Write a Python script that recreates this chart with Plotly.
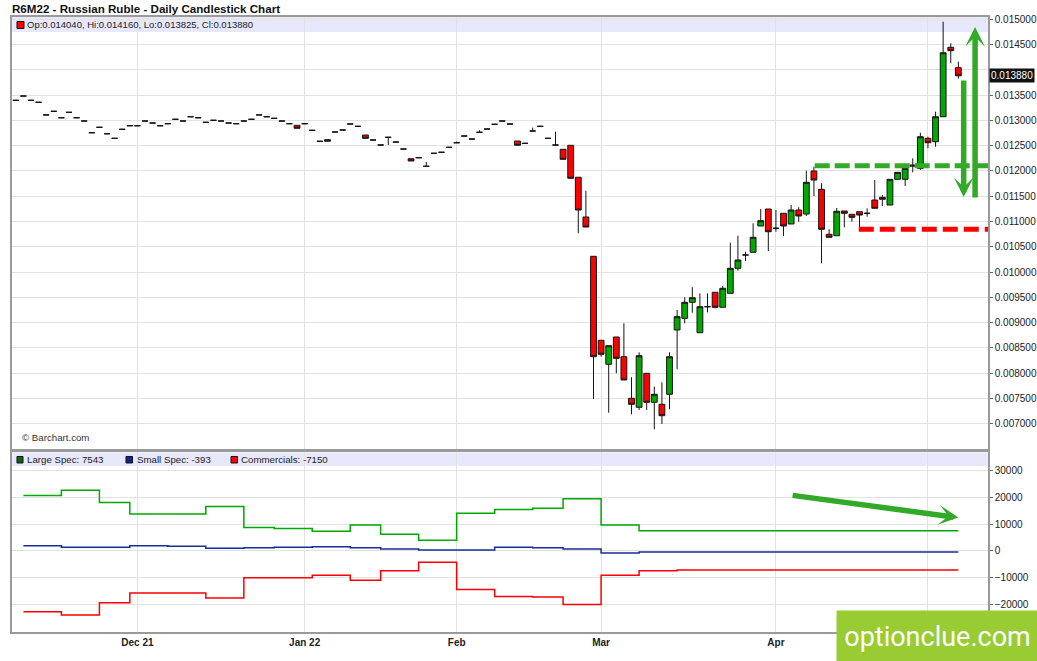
import pandas as pd
import plotly.graph_objects as go

# R6M22 daily bars, CME trading days from Nov 8 2021 to May 6 2022
holidays = ['2021-11-25', '2021-12-24', '2022-01-17', '2022-02-21', '2022-04-15']
days = [d.strftime('%Y-%m-%d')
        for d in pd.bdate_range('2021-11-08', '2022-05-06', freq='C', holidays=holidays)]

opens = [
    .013395, .013480, .013395, .013356, .013107, .013178, .013051, .013158, .013051, .012986,
    .012755, .012862, .012735, .012644, .012822, .012893, .012893, .012986, .012947, .012893,
    .012933, .013020, .012986, .013071, .013051, .012960, .013000, .012986, .012947, .012933,
    .012986, .013020, .013107, .013071, .013039, .012986, .012933, .012901, .012933, .012802,
    .012585, .012585, .012769, .012808, .012927, .012881, .012709, .012611, .012512, .012664,
    .012571, .012433, .012241, .012261, .012091, .012348, .012368, .012466, .012557, .012690,
    .012630, .012763, .012828, .012921, .012986, .012927, .012591, .012545, .012789, .012881,
    .012644, .012512, .012427, .012506, .011874, .011089, .010312, .008652, .008178, .008717,
    .008328, .007506, .007328, .008000, .007427, .007387, .007585, .008856, .009087, .009403,
    .008802, .009316, .009601, .009304, .009581, .010075, .010338, .010391, .010911, .011247,
    .010866, .011162, .010951, .011227, .011148, .011998, .011636, .010747, .010719, .011208,
    .011142, .011194, .011162, .011425, .011478, .011326, .011834, .011834, .012117, .012051,
    .012644, .012577, .013071, .014443, .014040,
]
highs = [
    .013395, .013480, .013395, .013356, .013107, .013178, .013051, .013158, .013051, .012986,
    .012755, .012862, .012735, .012644, .012822, .012893, .012893, .012986, .012947, .012893,
    .012933, .013020, .012986, .013071, .013051, .012960, .013000, .012986, .012947, .012933,
    .012986, .013020, .013107, .013071, .013039, .012986, .012933, .012901, .012933, .012802,
    .012585, .012617, .012769, .012808, .012927, .012881, .012709, .012611, .012512, .012664,
    .012571, .012433, .012241, .012261, .012176, .012348, .012368, .012466, .012580, .012690,
    .012630, .012802, .012828, .012921, .012986, .012927, .012591, .012545, .012854, .012881,
    .012644, .012775, .012427, .012506, .011874, .011609, .010312, .008652, .008546, .008717,
    .008988, .007921, .008415, .008000, .007735, .007822, .008415, .009251, .009502, .009700,
    .009581, .009581, .009601, .009725, .010581, .010719, .010403, .010964, .011247, .011247,
    .011227, .011162, .011326, .011281, .012004, .012083, .011755, .010846, .011267, .011208,
    .011142, .011194, .011261, .011820, .011524, .011834, .011972, .012051, .012249, .012755,
    .012676, .013170, .014949, .014522, .014160,
]
lows = [
    .013395, .013480, .013395, .013356, .013107, .013178, .013051, .013158, .013051, .012986,
    .012755, .012862, .012735, .012644, .012822, .012893, .012893, .012986, .012947, .012893,
    .012933, .013020, .012986, .013071, .013051, .012960, .013000, .012986, .012947, .012933,
    .012986, .013020, .013107, .013071, .013039, .012986, .012933, .012842, .012933, .012802,
    .012585, .012585, .012769, .012808, .012927, .012881, .012644, .012611, .012512, .012512,
    .012571, .012433, .012196, .012261, .012091, .012348, .012368, .012466, .012557, .012690,
    .012630, .012763, .012828, .012921, .012986, .012927, .012506, .012545, .012789, .012881,
    .012644, .012512, .012229, .011854, .010767, .010891, .007492, .008328, .007221, .008000,
    .007868, .007190, .007275, .007275, .006893, .006998, .007289, .008079, .008988, .009198,
    .008802, .009205, .009284, .009304, .009581, .010028, .010219, .010391, .010911, .010417,
    .010798, .010713, .010951, .010996, .011109, .011504, .010174, .010688, .010719, .010885,
    .010996, .010885, .011095, .011261, .011306, .011326, .011834, .011702, .011972, .012018,
    .012447, .012478, .013071, .014126, .013825,
]
closes = [
    .013395, .013480, .013395, .013356, .013107, .013178, .013051, .013158, .013051, .012986,
    .012755, .012862, .012735, .012644, .012822, .012893, .012893, .012986, .012947, .012893,
    .012933, .013020, .012986, .013071, .013051, .012960, .013000, .012986, .012947, .012933,
    .012986, .013020, .013107, .013071, .013039, .012986, .012933, .012842, .012933, .012802,
    .012585, .012617, .012769, .012808, .012927, .012881, .012644, .012611, .012512, .012664,
    .012571, .012433, .012196, .012261, .012091, .012348, .012368, .012466, .012557, .012690,
    .012630, .012763, .012828, .012921, .012986, .012927, .012506, .012545, .012789, .012881,
    .012644, .012512, .012229, .011854, .011227, .010891, .008328, .008376, .008546, .008296,
    .007868, .007387, .008348, .007427, .007585, .007162, .008328, .009119, .009403, .009494,
    .009316, .009316, .009304, .009680, .010075, .010239, .010338, .010688, .011016, .010798,
    .010866, .010911, .011227, .011109, .011775, .011820, .010846, .010688, .011202, .011162,
    .011083, .011128, .011162, .011261, .011439, .011834, .011972, .012051, .012097, .012676,
    .012557, .013071, .014336, .014376, .013880,
]

# weekly commitments of traders (net positions), last value carried to the end of the chart
cot_dates = ['2021-11-09', '2021-11-16', '2021-11-23', '2021-11-30', '2021-12-07', '2021-12-14',
             '2021-12-21', '2021-12-28', '2022-01-04', '2022-01-11', '2022-01-18', '2022-01-25',
             '2022-02-01', '2022-02-08', '2022-02-15', '2022-02-22', '2022-03-01', '2022-03-08',
             '2022-03-15', '2022-05-06']
large_spec = [20750, 22700, 18200, 13850, 13850, 16700, 8750, 8400, 7400, 9750, 6300, 4000,
              14100, 15500, 16000, 19600, 9700, 7600, 7543, 7543]
small_spec = [2000, 1400, 1400, 2000, 1750, 1000, 1250, 1400, 1600, 1250, 750, 400,
              400, 1400, 1250, 750, -750, -400, -393, -393]
commercials = [-22750, -24000, -19400, -15750, -15750, -17600, -10000, -10000, -9100, -11000,
               -7400, -4250, -14400, -17000, -17250, -20000, -9100, -7400, -7150, -7150]

month_ticks = ['2021-12-01', '2022-01-03', '2022-02-01', '2022-03-01', '2022-04-01', '2022-05-02']
month_labels = ['Dec 21', 'Jan 22', 'Feb', 'Mar', 'Apr', '']  # May is hidden under the watermark
price_ticks = [0.0065, 0.007, 0.0075, 0.008, 0.0085, 0.009, 0.0095, 0.010, 0.0105,
               0.011, 0.0115, 0.012, 0.0125, 0.013, 0.0135, 0.014, 0.0145, 0.015]
price_labels = ['0.006500', '0.007000', '0.007500', '0.008000', '0.008500', '0.009000',
                '0.009500', '0.010000', '0.010500', '0.011000', '0.011500', '0.012000',
                '0.012500', '0.013000', '0.013500', '', '0.014500', '0.015000']
cot_ticks = [-20000, -10000, 0, 10000, 20000, 30000]

last_price = 0.013880
resistance = 0.0121
support = 0.010846

font = 'Liberation Sans, Arial, sans-serif'
green = 'rgb(0,168,0)'
red = 'rgb(255,0,0)'
blue = 'rgb(25,45,150)'
drawn = 'rgb(50,170,40)'
grid = '#e2e2e2'
border = '#9a9a9a'

fig = go.Figure()
fig.add_trace(go.Candlestick(
    x=days, open=opens, high=highs, low=lows, close=closes,
    increasing=dict(fillcolor=green, line=dict(color='#151515', width=1)),
    decreasing=dict(fillcolor=red, line=dict(color='#151515', width=1)),
    whiskerwidth=0, showlegend=False, hoverinfo='skip', xaxis='x', yaxis='y'))

for vals, color in [(large_spec, green), (small_spec, blue), (commercials, red)]:
    fig.add_trace(go.Scatter(x=cot_dates, y=vals, mode='lines',
                             line=dict(color=color, width=1.5, shape='hv'),
                             showlegend=False, hoverinfo='skip', xaxis='x2', yaxis='y2'))

axis_common = dict(showgrid=True, gridcolor=grid, gridwidth=1, showline=True, mirror=True,
                   linecolor=border, linewidth=1.5, zeroline=False, automargin=False)

fig.update_layout(
    width=1037, height=661,
    margin=dict(l=12, r=49, t=17, b=29),
    paper_bgcolor='white', plot_bgcolor='white',
    font=dict(family=font, size=10, color='#222'),
    showlegend=False,
    boxgap=0.15, boxgroupgap=0.1,
    xaxis=dict(domain=[0, 1], anchor='y', type='category', categoryorder='array',
               categoryarray=days, range=[-0.5, 127.9], rangeslider=dict(visible=False),
               tickvals=month_ticks, showticklabels=False, ticks='', **axis_common),
    xaxis2=dict(domain=[0, 1], anchor='y2', matches='x', type='category', categoryorder='array',
                categoryarray=days, range=[-0.5, 127.9], tickvals=month_ticks,
                ticktext=month_labels, ticks='',
                tickfont=dict(size=10, color='#222', weight='bold'), **axis_common),
    yaxis=dict(domain=[0.2976, 1], anchor='x', side='right', range=[0.006504, 0.015042],
               tickvals=price_ticks, ticktext=price_labels, ticks='outside', ticklen=3,
               tickcolor='#666', tickfont=dict(size=10, color='#222'), **axis_common),
    yaxis2=dict(domain=[0, 0.2919], anchor='x2', side='right', range=[-30340, 36890],
                tickvals=cot_ticks, tickformat='d', ticks='outside', ticklen=3,
                tickcolor='#666', tickfont=dict(size=10, color='#222'), **axis_common),
)

# lavender info bands on top of each panel
fig.add_shape(type='rect', xref='paper', yref='paper', x0=0, x1=1, y0=0.9756, y1=1.0,
              fillcolor='rgb(232,232,252)', line=dict(width=0), layer='below')
fig.add_shape(type='rect', xref='paper', yref='paper', x0=0, x1=1, y0=0.2699, y1=0.2919,
              fillcolor='rgb(232,232,252)', line=dict(width=0), layer='below')

# legend squares
squares = [(0.0051, 0.0123, 0.9813, 0.9927, red),
           (0.0051, 0.0113, 0.2748, 0.2854, 'rgb(20,95,20)'),
           (0.1168, 0.1235, 0.2748, 0.2854, 'rgb(20,35,140)'),
           (0.2244, 0.2311, 0.2748, 0.2854, red)]
for x0, x1, y0, y1, c in squares:
    fig.add_shape(type='rect', xref='paper', yref='paper', x0=x0, x1=x1, y0=y0, y1=y1,
                  fillcolor=c, line=dict(color='#111', width=1), layer='above')

# support / resistance dashes drawn on the chart
fig.add_shape(type='line', xref='x', yref='y', x0=105.1, x1=127.9, y0=resistance, y1=resistance,
              line=dict(color=drawn, width=5, dash='15px,5px'), layer='above')
fig.add_shape(type='line', xref='x', yref='y', x0=110.9, x1=127.9, y0=support, y1=support,
              line=dict(color=red, width=5, dash='15px,6px'), layer='above')

texts = [
    dict(x=0, y=1.0146, text='R6M22 - Russian Ruble - Daily Candlestick Chart',
         font=dict(size=11.6, color='#111', weight='bold')),
    dict(x=0.0154, y=0.9870, text='Op:0.014040, Hi:0.014160, Lo:0.013825, Cl:0.013880',
         font=dict(size=9.5, color='#222')),
    dict(x=0.0154, y=0.2805, text='Large Spec: 7543', font=dict(size=9.7, color='#222')),
    dict(x=0.1276, y=0.2805, text='Small Spec: -393', font=dict(size=9.7, color='#222')),
    dict(x=0.2349, y=0.2805, text='Commercials: -7150', font=dict(size=9.7, color='#222')),
    dict(x=0.0102, y=0.3159, text='© Barchart.com', font=dict(size=9.7, color='#333')),
]
for t in texts:
    fig.add_annotation(xref='paper', yref='paper', xanchor='left', yanchor='middle',
                       xshift=-2, showarrow=False, **t)

# last price tag on the price axis
fig.add_annotation(xref='paper', yref='y', x=1, y=last_price, xanchor='left', xshift=1,
                   text='0.013880', showarrow=False, bgcolor='#111', borderpad=1,
                   font=dict(size=10, color='white'))

# hand-drawn arrows
arrows = [
    dict(xref='x', yref='y', axref='x', ayref='y', x=126.2, y=0.014844, ax=126.2, ay=0.011445),
    dict(xref='x', yref='y', axref='x', ayref='y', x=124.7, y=0.011484, ax=124.7, ay=0.013816),
    dict(xref='x2', yref='y2', axref='x2', ayref='y2', x=124.0, y=12500, ax=102.0, ay=20900),
]
for a in arrows:
    fig.add_annotation(text='', showarrow=True, arrowhead=3, arrowsize=0.6, arrowwidth=5.5,
                       arrowcolor=drawn, standoff=0, **a)

# site watermark
fig.add_annotation(xref='paper', yref='paper', x=0.8443, y=0.0358, xanchor='left', yanchor='top',
                   width=201, height=51, borderpad=0, bgcolor='rgb(153,204,51)',
                   text='optionclue.com', showarrow=False,
                   font=dict(family='Roboto, Liberation Sans, sans-serif', size=27, color='white'))

# drop the default 8px body margin so the figure fills the window exactly
fig.write_html('out.html', config={'displayModeBar': False},
               post_script="document.body.style.margin = '0';")
